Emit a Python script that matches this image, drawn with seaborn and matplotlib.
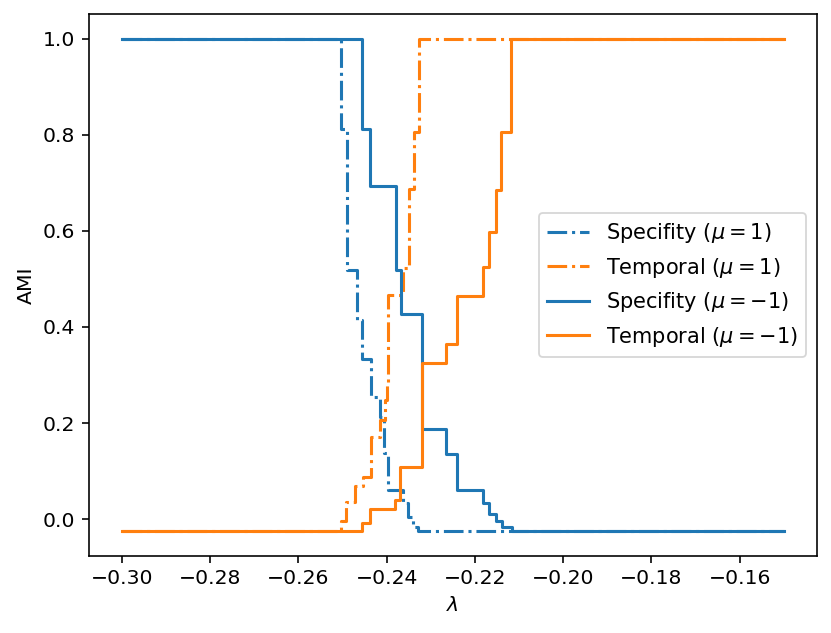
import matplotlib
matplotlib.use("Agg")
import matplotlib.pyplot as plt
import seaborn as sns
import pandas as pd

# valores (escalones, cada valor vale hasta el siguiente lambda)
x_fin = -0.15

lam_spec_mu1 = [-0.30, -0.2503, -0.2491, -0.2467, -0.2455, -0.2435, -0.2415, -0.2407, -0.2397, -0.2364, -0.2351, -0.2341, -0.2328]
ami_spec_mu1 = [1.0, 0.812, 0.518, 0.415, 0.333, 0.254, 0.213, 0.137, 0.060, 0.033, 0.004, -0.016, -0.025]

lam_temp_mu1 = [-0.30, -0.2503, -0.2492, -0.2471, -0.2453, -0.2436, -0.2415, -0.2405, -0.2400, -0.2396, -0.2363, -0.2350, -0.2339, -0.2326]
ami_temp_mu1 = [-0.025, -0.004, 0.036, 0.068, 0.088, 0.171, 0.206, 0.247, 0.279, 0.466, 0.522, 0.686, 0.805, 1.0]

lam_spec_mu_1 = [-0.30, -0.2456, -0.2438, -0.2379, -0.2367, -0.2320, -0.2265, -0.2241, -0.2181, -0.2169, -0.2152, -0.2139, -0.2116]
ami_spec_mu_1 = [1.0, 0.812, 0.693, 0.518, 0.427, 0.187, 0.135, 0.060, 0.034, 0.010, -0.004, -0.017, -0.025]

lam_temp_mu_1 = [-0.30, -0.2455, -0.2439, -0.2381, -0.2369, -0.2320, -0.2265, -0.2241, -0.2181, -0.2169, -0.2152, -0.2140, -0.2118]
ami_temp_mu_1 = [-0.025, -0.009, 0.022, 0.040, 0.109, 0.324, 0.365, 0.464, 0.525, 0.598, 0.685, 0.805, 1.0]

series = [
    (lam_spec_mu1, ami_spec_mu1, r"Specifity ($\mu=1$)", "#1f77b4", "-."),
    (lam_temp_mu1, ami_temp_mu1, r"Temporal ($\mu=1$)", "#ff7f0e", "-."),
    (lam_spec_mu_1, ami_spec_mu_1, r"Specifity ($\mu=-1$)", "#1f77b4", "-"),
    (lam_temp_mu_1, ami_temp_mu_1, r"Temporal ($\mu=-1$)", "#ff7f0e", "-"),
]

# la figura original se hizo a mas dpi, se escala todo un poco
plt.rcParams["font.size"] = 11.3
plt.rcParams["axes.linewidth"] = 0.9
plt.rcParams["xtick.major.size"] = 4
plt.rcParams["ytick.major.size"] = 4
plt.rcParams["xtick.major.width"] = 0.9
plt.rcParams["ytick.major.width"] = 0.9

fig, ax = plt.subplots(figsize=(831 / 130, 633 / 130), dpi=130)
fig.subplots_adjust(left=0.107, right=0.983, top=0.978, bottom=0.122)

for lam, ami, nombre, color, estilo in series:
    df = pd.DataFrame({"lam": lam + [x_fin], "ami": ami + [ami[-1]]})
    sns.lineplot(x="lam", y="ami", data=df, ax=ax, color=color, linestyle=estilo,
                 drawstyle="steps-post", linewidth=1.7, label=nombre)

ax.set_xlabel(r"$\lambda$")
ax.set_ylabel("AMI")
ax.set_xticks([-0.30, -0.28, -0.26, -0.24, -0.22, -0.20, -0.18, -0.16])
ax.legend(loc="center right", fontsize=11.6)

plt.savefig("out.png", dpi=130)
